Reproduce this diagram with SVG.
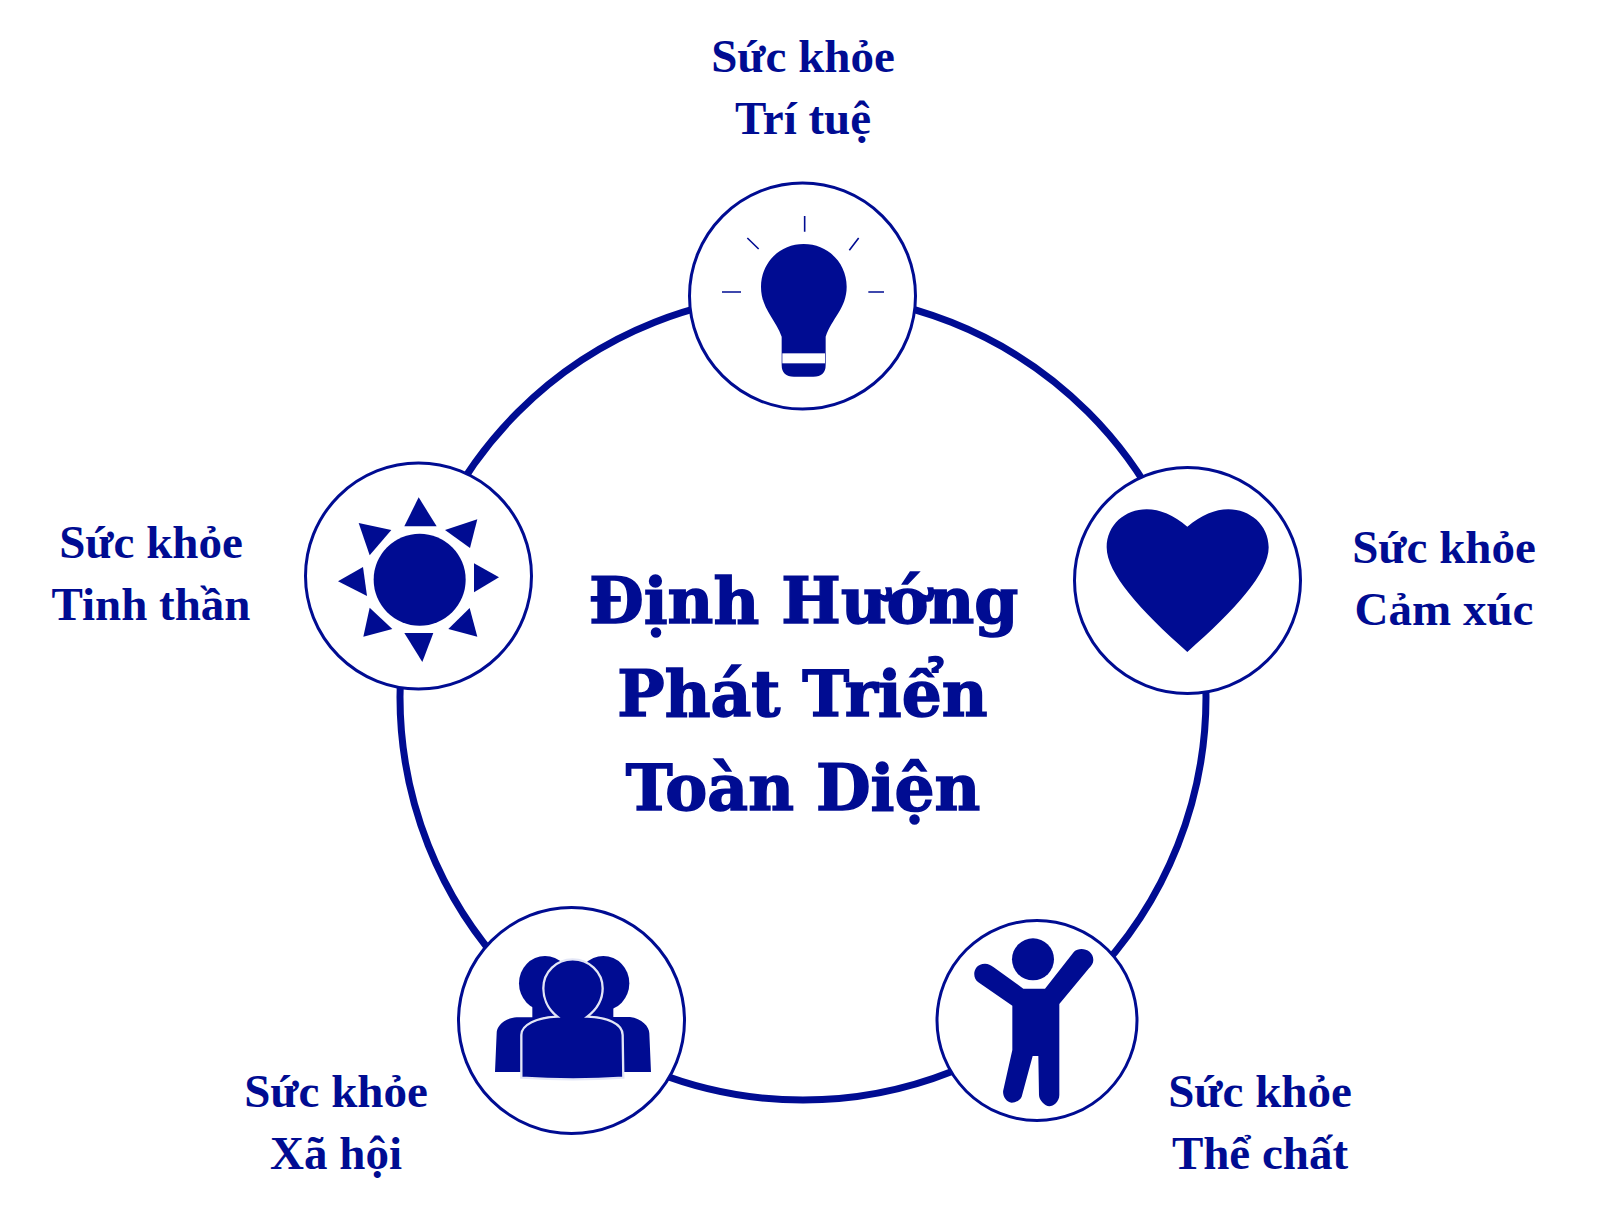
<svg xmlns="http://www.w3.org/2000/svg" width="1600" height="1210" viewBox="0 0 1600 1210">
<style>
.bg{fill:#fff}
.ring{fill:none;stroke:#000c92;stroke-width:7}
.node{fill:#fff;stroke:#000c92;stroke-width:3}
.ic{fill:#000c92}
.ray{stroke:#000c92;stroke-width:4.8;fill:none}
text{font-family:"Liberation Serif","Times New Roman",serif;font-weight:700;fill:#000c92;text-anchor:middle}
.lb{font-size:47px}
.tt{font-family:"DejaVu Serif","Liberation Serif",serif;font-size:63px;stroke:#000c92;stroke-width:1.5}
</style>
<rect class="bg" width="1600" height="1210"/>
<g id="connectors"><circle class="ring" cx="803" cy="697" r="403"/></g>
<g id="node-tri-tue">
<circle class="node" cx="802.5" cy="296" r="113"/>
<g transform="translate(650 0) scale(.33333)">
<path class="ic" d="M461 732C535 732 590 790 590 860C590 925 545 955 527 1010V1095Q527 1130 490 1130H432Q395 1130 395 1095V1010C375 955 333 925 333 860C333 790 388 732 461 732Z"/>
<rect x="397" y="1060" width="128" height="30" fill="#fff"/>
<path class="ray" d="M464 648V695M292 714L326 747M626 714L598 751M216 876H273M655 876H702"/>
</g>
<text class="lb" x="803" y="72">Sức khỏe</text>
<text class="lb" x="803" y="134">Trí tuệ</text>
</g>
<g id="node-tinh-than">
<circle class="node" cx="418.5" cy="576" r="113"/>
<g class="ic" transform="translate(290 450) scale(.33333)">
<circle cx="389" cy="389" r="138"/>
<polygon points="386,142 343,229 440,229"/>
<polygon points="562,208 465,240 540,294"/>
<polygon points="552,340 627,382 552,427"/>
<polygon points="539,474 475,537 562,560"/>
<polygon points="343,549 430,549 397,636"/>
<polygon points="239,473 220,560 307,537"/>
<polygon points="219,351 144,394 231,438"/>
<polygon points="206,219 304,240 239,316"/>
</g>
<text class="lb" x="151" y="558">Sức khỏe</text>
<text class="lb" x="151" y="620">Tinh thần</text>
</g>
<g id="node-xa-hoi">
<circle class="node" cx="571.5" cy="1020.5" r="113"/>
<g transform="translate(440 900) scale(.33333)">
<g class="ic">
<ellipse cx="315" cy="250" rx="78" ry="82"/>
<ellipse cx="490" cy="250" rx="78" ry="82"/>
<path d="M277 300H520V351H570C605 355 628 380 628 400L633 516H165L170 400C170 380 190 355 230 352H277Z"/>
</g>
<path class="ic" stroke="#e3e6f6" stroke-width="7" d="M352 350C320 325 310 290 310 265C310 215 350 178 398 178C446 178 488 215 488 265C488 295 475 325 442 350C500 352 548 370 548 405L550 533C450 540 350 540 244 533L244 405C244 375 290 352 352 350Z"/>
</g>
<text class="lb" x="336" y="1107">Sức khỏe</text>
<text class="lb" x="336" y="1169">Xã hội</text>
</g>
<g id="node-the-chat">
<circle class="node" cx="1037" cy="1020.5" r="100"/>
<g class="ic" transform="translate(920 910) scale(.33333)">
<circle cx="339" cy="148" r="63"/>
<path d="M310 236H375L462 125C480 108 520 118 520 150C520 160 514 168 507 175L418 282V555C418 575 400 589 388 589C375 589 357 570 357 555L355 438H338L305 560C300 572 285 578 275 578C258 578 246 555 250 540L277 420V287L175 217C155 205 158 161 195 161C205 161 212 166 220 171Z"/>
</g>
<text class="lb" x="1260" y="1107">Sức khỏe</text>
<text class="lb" x="1260" y="1169">Thể chất</text>
</g>
<g id="node-cam-xuc">
<circle class="node" cx="1187.5" cy="580.5" r="113"/>
<g class="ic" transform="translate(1070 460) scale(.33333)">
<path d="M352 200C310 165 270 148 230 148C165 148 110 195 110 262C110 340 210 450 352 576C495 450 596 340 596 262C596 195 540 148 475 148C435 148 395 165 352 200Z"/>
</g>
<text class="lb" x="1444" y="563">Sức khỏe</text>
<text class="lb" x="1444" y="625">Cảm xúc</text>
</g>
<g id="center">
<text class="tt" x="803.5" y="623">Định Hướng</text>
<text class="tt" x="802.5" y="716">Phát Triển</text>
<text class="tt" x="803" y="810">Toàn Diện</text>
</g>
</svg>
